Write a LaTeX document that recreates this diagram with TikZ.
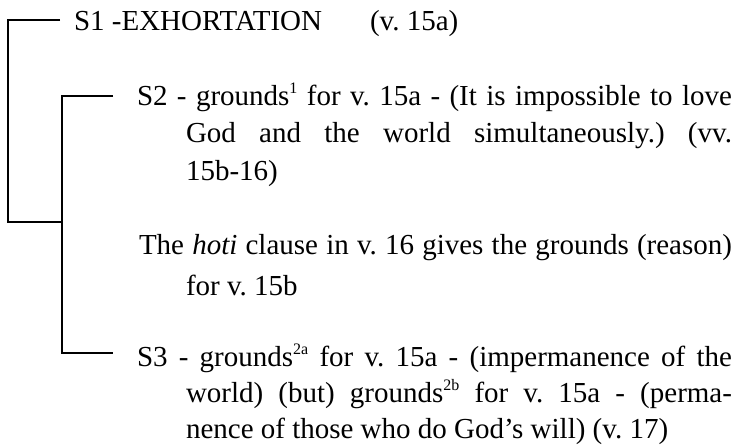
\documentclass[tikz,border=0pt]{standalone}
\usepackage{fontspec}
\setmainfont{Liberation Serif}
\newcommand\supr[1]{\raisebox{0.40em}{\fontsize{16}{16}\selectfont #1}}
\tikzset{
  txt/.style={anchor=base west, inner sep=0pt, outer sep=0pt, font=\fontsize{29}{37.5}\selectfont\frenchspacing},
  br/.style={draw=black, line width=2.2pt, line join=miter}
}
\begin{document}
\begin{tikzpicture}[x=1pt,y=1pt]
\useasboundingbox (0,0) rectangle (735,-445);
% text nodes
\node[txt] (s1) at (74,-30) {S1 -EXHORTATION\hspace{48pt}(v. 15a)};
\node[txt] (s2) at (137,-105) {\vtop{\baselineskip=37.5pt
  \hbox to 595pt{S2 - grounds\supr{1} for v. 15a - (It is impossible to love}
  \moveright49pt\hbox to 546pt{God and the world simultaneously.) (vv.}
  \moveright49pt\hbox{15b-16)}}};
\node[txt] (hoti) at (139,-254) {\vtop{\baselineskip=41pt
  \hbox to 593pt{The \textit{hoti} clause in v. 16 gives the grounds (reason)}
  \moveright47pt\hbox{for v. 15b}}};
\node[txt] (s3) at (137,-366) {\vtop{\baselineskip=36pt
  \hbox to 595pt{S3 - grounds\supr{2a} for v. 15a - (impermanence of the}
  \moveright49pt\hbox to 546pt{world) (but) grounds\supr{2b} for v. 15a - (perma-}
  \moveright49pt\hbox{nence of those who do God’s will) (v. 17)}}};
% bracket end points
\coordinate (s1end) at (60,-20);
\coordinate (s2end) at (113,-96);
\coordinate (s3end) at (113,-353);
\coordinate (join) at (62,-222);
% brackets
\draw[br] (s1end) -- ++(-52,0) |- (join);
\draw[br] (s2end) -- ++(-51,0) |- (s3end);
\end{tikzpicture}
\end{document}
